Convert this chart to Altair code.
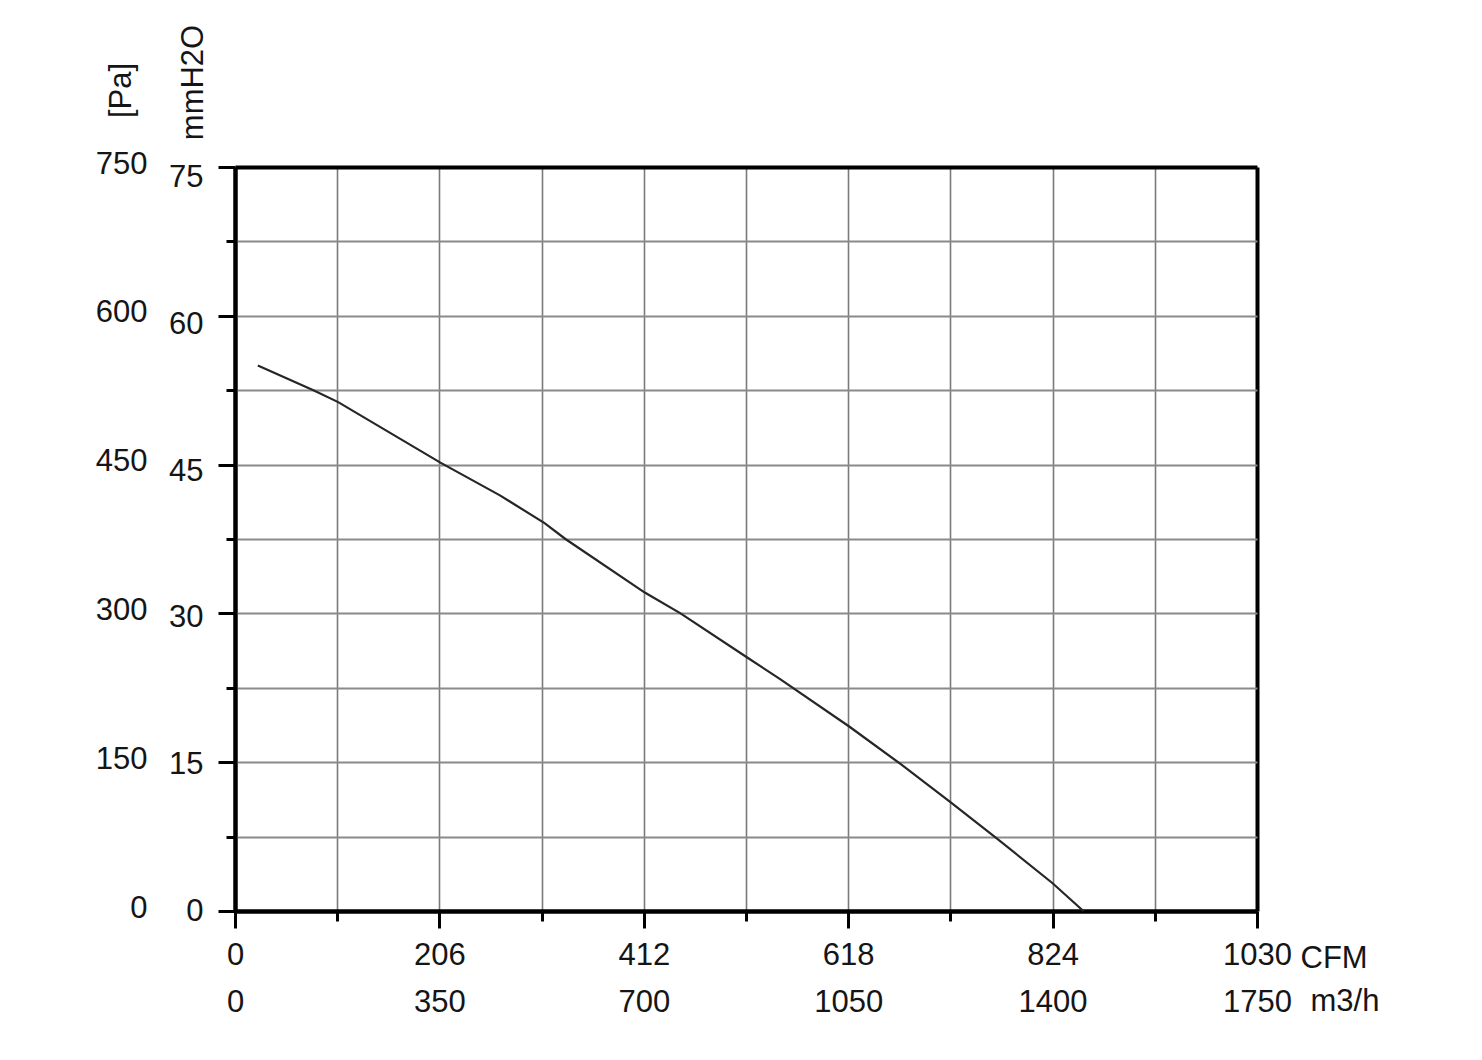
import altair as alt
import pandas as pd

# Curve (CFM vs static pressure in Pa)
curve_cfm = [23, 79, 104, 207, 267, 312, 333, 413, 449, 517, 549, 619, 671, 722, 768, 824, 855]
curve_pa = [550, 525, 513, 452, 419, 391, 375, 321, 300, 255, 234, 186, 148, 109, 73, 28, 0]

# Grid / tick positions and labels
cfm_grid = [0, 103, 206, 309, 412, 515, 618, 721, 824, 927, 1030]
cfm_labels = [0, 206, 412, 618, 824, 1030]
m3h_labels = [0, 350, 700, 1050, 1400, 1750]
pa_grid = [0, 75, 150, 225, 300, 375, 450, 525, 600, 675, 750]
pa_labels = [0, 150, 300, 450, 600, 750]
mmh2o_labels = [0, 15, 30, 45, 60, 75]

FONT = "Liberation Sans"
FS = 31
TXT = "#151515"

curve_df = pd.DataFrame({"cfm": curve_cfm, "pa": curve_pa})
m3h_df = pd.DataFrame({"m3h": m3h_labels})
mm_df = pd.DataFrame({"mm": mmh2o_labels})

cfm_lab_js = "[" + ",".join(str(v) for v in cfm_labels) + "]"
pa_lab_js = "[" + ",".join(str(v) for v in pa_labels) + "]"
cfm_edge = f"datum.value === {cfm_grid[0]} || datum.value === {cfm_grid[-1]}"
pa_edge = f"datum.value === {pa_grid[0]} || datum.value === {pa_grid[-1]}"

x_cfm = alt.X(
    "cfm:Q",
    scale=alt.Scale(domain=[cfm_grid[0], cfm_grid[-1]], nice=False, zero=False),
    axis=alt.Axis(
        orient="bottom",
        values=cfm_grid,
        labelExpr=f"indexof({cfm_lab_js}, datum.value) >= 0 ? format(datum.value, 'd') : ''",
        title="CFM",
        titleX=1065,
        titleY=56,
        titleAlign="left",
        titleBaseline="alphabetic",
        titleAngle=0,
        titleFont=FONT,
        titleFontSize=FS,
        titleFontWeight="normal",
        titleColor=TXT,
        labelFont=FONT,
        labelFontSize=FS,
        labelColor=TXT,
        labelPadding=12,
        labelFlush=False,
        labelOverlap=False,
        domain=True,
        domainColor="black",
        domainWidth=4,
        ticks=True,
        tickColor="black",
        tickWidth=3,
        tickSize={"condition": {"test": f"indexof({cfm_lab_js}, datum.value) >= 0", "value": 17}, "value": 10},
        grid=True,
        gridColor={"condition": {"test": cfm_edge, "value": "black"}, "value": "#7a7a7a"},
        gridWidth={"condition": {"test": cfm_edge, "value": 4}, "value": 1.6},
    ),
)

y_pa = alt.Y(
    "pa:Q",
    scale=alt.Scale(domain=[pa_grid[0], pa_grid[-1]], nice=False, zero=False),
    axis=alt.Axis(
        orient="left",
        values=pa_grid,
        labelExpr=f"indexof({pa_lab_js}, datum.value) >= 0 ? format(datum.value, 'd') : ''",
        title="[Pa]",
        titleAngle=-90,
        titleX=-114,
        titleY=-77,
        titleAlign="center",
        titleBaseline="middle",
        titleFont=FONT,
        titleFontSize=FS,
        titleFontWeight="normal",
        titleColor=TXT,
        labelFont=FONT,
        labelFontSize=FS,
        labelColor=TXT,
        labelPadding=71,
        labelOffset=-3,
        labelFlush=False,
        labelOverlap=False,
        domain=True,
        domainColor="black",
        domainWidth=4,
        ticks=True,
        tickColor="black",
        tickWidth=3,
        tickSize={"condition": {"test": f"indexof({pa_lab_js}, datum.value) >= 0", "value": 17}, "value": 9},
        grid=True,
        gridColor={"condition": {"test": pa_edge, "value": "black"}, "value": "#8a8a8a"},
        gridWidth={"condition": {"test": pa_edge, "value": 4}, "value": 1.8},
    ),
)

line = alt.Chart(curve_df).mark_line(
    color="#262626", strokeWidth=2.2, clip=False, interpolate="linear"
).encode(x=x_cfm, y=y_pa)

m3h_layer = alt.Chart(m3h_df).mark_point(opacity=0).encode(
    x=alt.X(
        "m3h:Q",
        scale=alt.Scale(domain=[m3h_labels[0], m3h_labels[-1]], nice=False, zero=False),
        axis=alt.Axis(
            orient="bottom",
            values=m3h_labels,
            format="d",
            title="m3/h",
            titleX=1075,
            titleY=99,
            titleAlign="left",
            titleBaseline="alphabetic",
            titleFont=FONT,
            titleFontSize=FS,
            titleFontWeight="normal",
            titleColor=TXT,
            labelFont=FONT,
            labelFontSize=FS,
            labelColor=TXT,
            labelPadding=76,
            labelFlush=False,
            labelOverlap=False,
            domain=False,
            ticks=False,
            tickSize=0,
            grid=False,
        ),
    )
)

mm_layer = alt.Chart(mm_df).mark_point(opacity=0).encode(
    y=alt.Y(
        "mm:Q",
        scale=alt.Scale(domain=[0, 76.1], nice=False, zero=False),
        axis=alt.Axis(
            orient="left",
            values=mmh2o_labels,
            format="d",
            title="mmH2O",
            titleAngle=-90,
            titleX=-42,
            titleY=-85,
            titleAlign="center",
            titleBaseline="middle",
            titleFont=FONT,
            titleFontSize=FS,
            titleFontWeight="normal",
            titleColor=TXT,
            labelFont=FONT,
            labelFontSize=FS,
            labelColor=TXT,
            labelPadding=32,
            labelFlush=False,
            labelOverlap=False,
            domain=False,
            ticks=False,
            tickSize=0,
            grid=False,
        ),
    )
)

chart = (
    alt.layer(line, m3h_layer, mm_layer)
    .resolve_scale(x="independent", y="independent")
    .properties(
        width=1022,
        height=744,
        autosize=alt.AutoSizeParams(type="none"),
        padding={"left": 227, "top": 159, "right": 200, "bottom": 120},
        background="white",
    )
    .configure_view(stroke=None)
)

chart.save("out.html", embed_options={"renderer": "svg", "actions": False})
